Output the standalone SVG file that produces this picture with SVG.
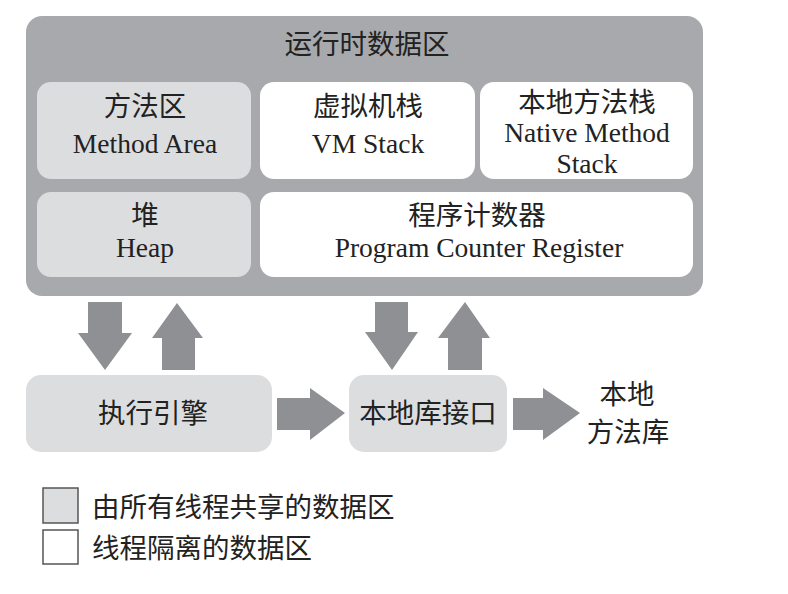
<svg xmlns="http://www.w3.org/2000/svg" width="788" height="594" viewBox="0 0 788 594">
  <style>
    .cn { font-family: "Noto Sans CJK SC", "Liberation Serif", serif; font-size: 27.5px; fill: #222; }
    .en { font-family: "Liberation Serif", "Noto Sans CJK SC", serif; font-size: 27.5px; fill: #222; }
    .shared { fill: #dcdddf; }
    .private { fill: #ffffff; }
    .arrow { fill: #8f9093; }
    .legend-box { stroke: #555; stroke-width: 1.5; }
  </style>

  <rect width="788" height="594" fill="#ffffff"/>

  <!-- runtime data area container -->
  <g id="runtime-data-area">
    <rect x="26" y="16" width="677" height="280" rx="16" fill="#a8a9ac"/>
    <text class="cn" x="367" y="54" text-anchor="middle">运行时数据区</text>
  </g>

  <g id="method-area">
    <rect class="shared" x="37" y="82" width="214" height="97" rx="14"/>
    <text class="cn" x="145" y="116" text-anchor="middle">方法区</text>
    <text class="en" x="145" y="153" text-anchor="middle">Method Area</text>
  </g>

  <g id="vm-stack">
    <rect class="private" x="260" y="82" width="215" height="97" rx="14"/>
    <text class="cn" x="368" y="116" text-anchor="middle">虚拟机栈</text>
    <text class="en" x="368" y="153" text-anchor="middle">VM Stack</text>
  </g>

  <g id="native-method-stack">
    <rect class="private" x="480" y="82" width="213" height="97" rx="14"/>
    <text class="cn" x="587" y="112" text-anchor="middle">本地方法栈</text>
    <text class="en" x="587" y="142" text-anchor="middle">Native Method</text>
    <text class="en" x="587" y="173" text-anchor="middle">Stack</text>
  </g>

  <g id="heap">
    <rect class="shared" x="37" y="192" width="214" height="85" rx="14"/>
    <text class="cn" x="145" y="225" text-anchor="middle">堆</text>
    <text class="en" x="145" y="257" text-anchor="middle">Heap</text>
  </g>

  <g id="program-counter-register">
    <rect class="private" x="260" y="192" width="433" height="85" rx="14"/>
    <text class="cn" x="477" y="225" text-anchor="middle">程序计数器</text>
    <text class="en" x="479" y="257" text-anchor="middle">Program Counter Register</text>
  </g>

  <g id="execution-engine">
    <rect class="shared" x="26" y="375" width="246" height="77" rx="15"/>
    <text class="cn" x="153" y="423" text-anchor="middle">执行引擎</text>
  </g>

  <g id="native-interface">
    <rect class="shared" x="349" y="375" width="158" height="77" rx="15"/>
    <text class="cn" x="428" y="423" text-anchor="middle">本地库接口</text>
  </g>

  <g id="native-method-library">
    <text class="cn" x="627" y="404" text-anchor="middle">本地</text>
    <text class="cn" x="628" y="442" text-anchor="middle">方法库</text>
  </g>

  <!-- block arrows between the areas -->
  <g id="connectors">
    <polygon class="arrow" points="88,302 122,302 122,333 132,333 105,370 78,333 88,333"/>
    <polygon class="arrow" points="177,303 203,338 195,338 195,370 162,370 162,338 152,338"/>
    <polygon class="arrow" points="375,302 408,302 408,332 418,332 392,370 365,332 375,332"/>
    <polygon class="arrow" points="465,302 490,338 482,338 482,370 448,370 448,338 438,338"/>
    <polygon class="arrow" points="277,398 310,398 310,388 345,413 310,440 310,430 277,430"/>
    <polygon class="arrow" points="513,398 543,398 543,388 580,413 543,440 543,430 513,430"/>
  </g>

  <g id="legend">
    <rect class="shared legend-box" x="43" y="488" width="35" height="35"/>
    <text class="cn" x="92" y="517">由所有线程共享的数据区</text>
    <rect class="private legend-box" x="43" y="530" width="35" height="34"/>
    <text class="cn" x="92" y="558">线程隔离的数据区</text>
  </g>
</svg>
